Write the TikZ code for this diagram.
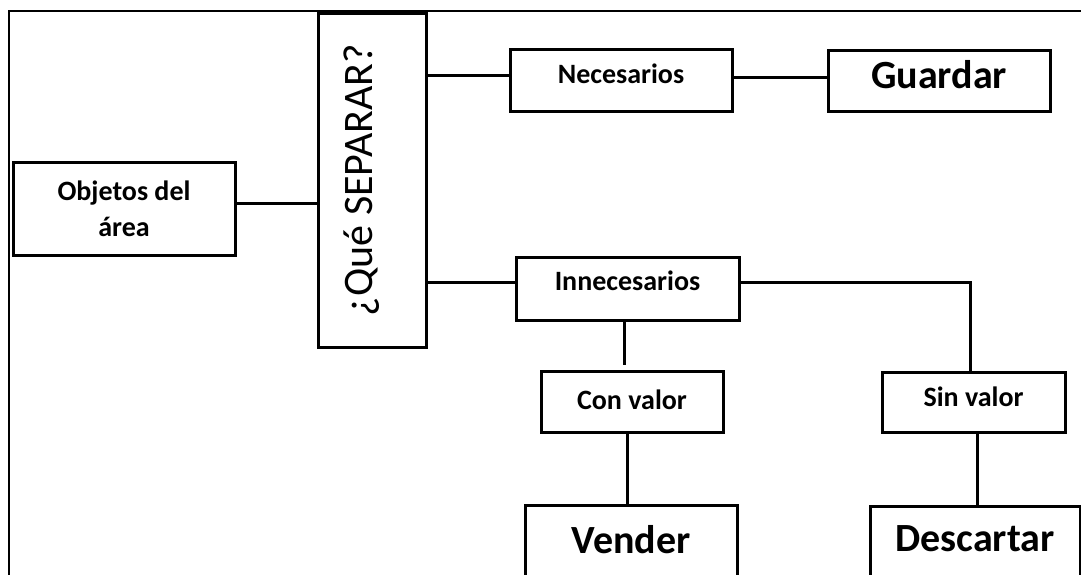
\documentclass[tikz,border=0pt]{standalone}
\usepackage{fontspec}
\setmainfont{Carlito}
\begin{document}
\begin{tikzpicture}[x=1pt,y=-1pt,
  box/.style={draw, line width=3pt, inner sep=0pt, font=\bfseries\fontsize{28}{36}\selectfont},
  bigbox/.style={box, font=\bfseries\fontsize{40}{48}\selectfont},
  link/.style={line width=3pt},
  frame/.style={line width=2pt}]
\useasboundingbox (0,0) rectangle (1081,574);
\clip (0,0) rectangle (1081,574);

% outer frame (top and left edges)
\draw[frame] (8.5,600) -- (8.5,10.5) -- (1100,10.5);

% boxes
\node[box, minimum width=222pt, minimum height=93pt, align=center] (obj) at (124,208.5) {Objetos del\\área};
% rotated box: its north side faces left, its south side faces right
\node[box, rotate=90, minimum width=334pt, minimum height=108pt,
      font=\fontsize{42}{50}\selectfont, text height=20pt, text depth=20pt] (que) at (372,180) {¿Qué SEPARAR?};
\node[box, minimum width=222pt, minimum height=62pt, text height=18pt, text depth=12pt] (nec) at (621,80) {Necesarios};
\node[bigbox, minimum width=222pt, minimum height=61pt, text height=26pt, text depth=11pt] (guard) at (939,80.5) {Guardar};
\node[box, minimum width=223pt, minimum height=63pt, text height=18pt, text depth=15pt] (inn) at (627.5,288.5) {Innecesarios};
\node[box, minimum width=182pt, minimum height=61pt, text height=18pt, text depth=3pt] (con) at (632,401.5) {Con valor};
\node[box, minimum width=183pt, minimum height=60pt, text height=18pt, text depth=9pt] (sin) at (973.5,402) {Sin valor};
\node[bigbox, anchor=north, minimum width=212pt, minimum height=90pt, text height=26pt, text depth=20pt] (vend) at (631,504) {Vender};
\node[bigbox, anchor=north, minimum width=210pt, minimum height=90pt, text height=26pt, text depth=26pt] (desc) at (975,505) {Descartar};

% end of the short branch below Innecesarios
\coordinate (stub) at (624,365);

% connectors
\draw[link] ([yshift=5.5pt]obj.east) -- ([yshift=5.5pt]obj.east -| que.north);
\draw[link] ([yshift=5pt]nec.west -| que.south) -- ([yshift=5pt]nec.west);
\draw[link] ([yshift=3pt]nec.east) -- ([yshift=3pt]nec.east -| guard.west);
\draw[link] ([yshift=6.5pt]inn.west -| que.south) -- ([yshift=6.5pt]inn.west);
\draw[link] ([yshift=6.5pt]inn.east) -| ([xshift=-3.5pt]sin.north);
\draw[link] ([xshift=-3.5pt]inn.south) -- (stub);
\draw[link] ([xshift=-5pt]con.south) -- ([xshift=-5pt]con.south |- vend.north);
\draw[link] ([xshift=3.5pt]sin.south) -- ([xshift=3.5pt]sin.south |- desc.north);
\end{tikzpicture}
\end{document}
